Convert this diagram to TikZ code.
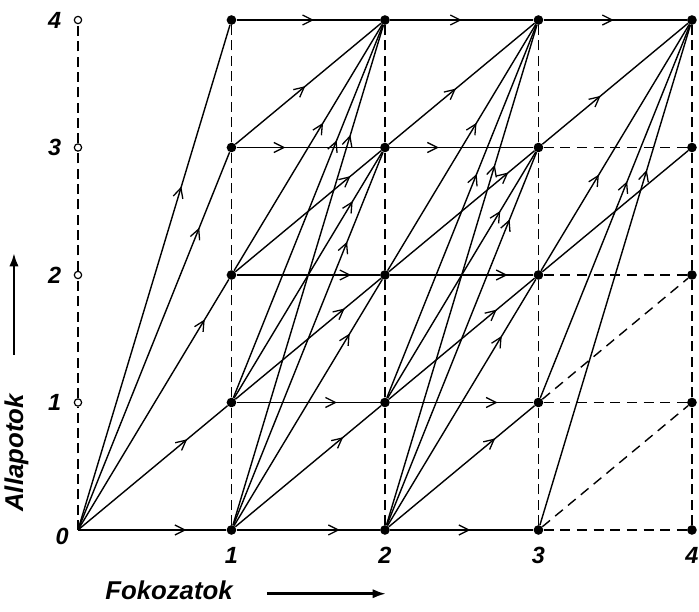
\documentclass[tikz,border=0pt]{standalone}
\usepackage{fontspec}
\setmainfont{Liberation Sans}
\usetikzlibrary{arrows.meta,positioning,decorations.markings}

\begin{document}
\begin{tikzpicture}[
  x=4.605cm, y=3.825cm,
  dot/.style={circle,fill=black,inner sep=0pt,minimum size=2.9mm},
  tick/.style={circle,draw=black,fill=white,line width=1pt,inner sep=0pt,minimum size=2.2mm},
  guide/.style={line width=1pt,dash pattern=on 3mm off 1.6mm},
  flow/.style={line width=1.2pt,postaction={decorate},
    decoration={markings,mark=at position #1 with {\arrow{Straight Barb[length=3mm,width=3mm,line width=1.1pt]}}}},
  flow/.default=0.7,
  hflow/.style={flow=#1,line width=1.6pt},
  cut/.style={line width=1.2pt,dash pattern=on 3mm off 2mm},
  lbl/.style={font=\bfseries\itshape\fontsize{20}{24}\selectfont,inner sep=2pt},
  axlbl/.style={font=\bfseries\itshape\fontsize{22}{26}\selectfont,inner sep=0pt},
  bigarrow/.style={-{Latex[length=4mm,width=2.8mm]},line width=2.2pt}
]
\useasboundingbox (-0.508,-0.643) rectangle (4.046,4.157);

\coordinate (n-0-0) at (0,0);
\foreach \j in {1,...,4}
  \node[tick] (a-\j) at (0,\j) {};
\foreach \i in {1,...,4}
  \foreach \j in {0,...,4}
    \node[dot] (n-\i-\j) at (\i,\j) {};

% dashed guide lines
\draw[guide] (n-0-0) -- (a-1);
\foreach \j/\k in {1/2,2/3,3/4}
  \draw[guide] (a-\j) -- (a-\k);
\foreach \i in {1,...,4}
  \foreach \j/\k in {0/1,1/2,2/3,3/4}
    \draw[guide] (n-\i-\j) -- (n-\i-\k);

% horizontal transitions
\foreach \a/\b/\c/\p in {0/0/1/0.73,1/0/2/0.72,2/0/3/0.56,
  1/1/2/0.7,2/1/3/0.75,1/2/2/0.8,2/2/3/0.82,
  1/3/2/0.34,2/3/3/0.34,1/4/2/0.54,2/4/3/0.5,3/4/4/0.49}
  \draw[hflow=\p] (n-\a-\b) -- (n-\c-\b);

% rising transitions
\foreach \a/\b/\c/\d/\p in {0/0/1/1/0.73,0/0/1/2/0.84,0/0/1/3/0.8,0/0/1/4/0.68,
  1/0/2/1/0.74,1/0/2/2/0.78,1/0/2/3/0.76,1/0/2/4/0.78,
  1/1/2/2/0.75,1/1/2/3/0.8,1/1/2/4/0.69,
  1/2/2/3/0.79,1/2/2/4/0.6,1/3/2/4/0.48,
  2/0/3/1/0.73,2/0/3/2/0.77,2/0/3/3/0.82,2/0/3/4/0.72,
  2/1/3/2/0.74,2/1/3/3/0.76,2/1/3/4/0.6,
  2/2/3/3/0.82,2/2/3/4/0.6,2/3/3/4/0.46,
  3/0/4/4/0.71,3/1/4/4/0.58,3/2/4/4/0.39,3/3/4/4/0.4}
  \draw[flow=\p] (n-\a-\b) -- (n-\c-\d);
\draw[line width=1.2pt] (n-3-2) -- (n-4-3);

% last stage, dashed
\foreach \b/\d in {0/0,1/1,2/2,3/3,0/1,1/2}
  \draw[cut] (n-3-\b) -- (n-4-\d);

% scale labels
\foreach \j in {1,...,4}
  \node[lbl,left=0.3cm of a-\j] {\j};
\node[lbl,left=0.2cm of n-0-0,yshift=-0.2cm] {0};
\foreach \i in {1,...,4}
  \node[lbl,below=0.3cm of n-\i-0] {\i};

% axis titles
\node[axlbl] (fok) at (0.593,-0.47) {Fokozatok};
\coordinate (fok-a) at (1.231,-0.5);
\coordinate (fok-b) at (2.007,-0.5);
\draw[bigarrow] (fok-a) -- (fok-b);
\node[axlbl,rotate=90] (all) at (-0.40,0.604) {Allapotok};
\coordinate (all-a) at (-0.417,1.373);
\coordinate (all-b) at (-0.417,2.173);
\draw[bigarrow] (all-a) -- (all-b);
\end{tikzpicture}
\end{document}
